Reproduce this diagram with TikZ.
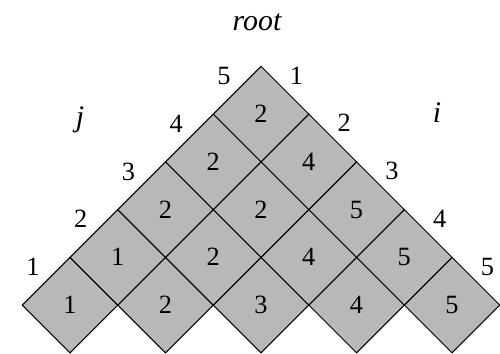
\documentclass[tikz,border=0pt]{standalone}
\usepackage{fontspec}
\setmainfont{Liberation Serif}
\usetikzlibrary{shapes.geometric,positioning}

\begin{document}
\begin{tikzpicture}[cell/.style={diamond, aspect=1, minimum width=1.91cm, minimum height=1.91cm, inner sep=0pt, outer sep=0pt, draw, line width=0.6pt, fill=black!28, font=\fontsize{15}{18}\selectfont},
index/.style={inner sep=0pt, font=\fontsize{15}{18}\selectfont},
axis/.style={inner sep=0pt, font=\fontsize{17}{20}\selectfont\itshape}]

\path[use as bounding box] (0,0) rectangle (10,7.06);

% Cells, bottom row first
\draw (1.40,0.96) node [cell] (cell51) {1};
\draw (3.31,0.96) node [cell] (cell52) {2};
\draw (5.22,0.96) node [cell] (cell53) {3};
\draw (7.13,0.96) node [cell] (cell54) {4};
\draw (9.04,0.96) node [cell] (cell55) {5};

\draw (2.355,1.915) node [cell] (cell41) {1};
\draw (4.265,1.915) node [cell] (cell42) {2};
\draw (6.175,1.915) node [cell] (cell43) {4};
\draw (8.085,1.915) node [cell] (cell44) {5};

\draw (3.31,2.87) node [cell] (cell31) {2};
\draw (5.22,2.87) node [cell] (cell32) {2};
\draw (7.13,2.87) node [cell] (cell33) {5};

\draw (4.265,3.825) node [cell] (cell21) {2};
\draw (6.175,3.825) node [cell] (cell22) {4};

\draw (5.22,4.78) node [cell] (cell11) {2};

% Index j along the left side
\draw (0.66,1.72) node [index] (jOne) {1};
\draw (1.615,2.675) node [index] (jTwo) {2};
\draw (2.57,3.63) node [index] (jThree) {3};
\draw (3.525,4.585) node [index] (jFour) {4};
\draw (4.48,5.54) node [index] (jFive) {5};

% Index i along the right side
\draw (5.93,5.55) node [index] (iOne) {1};
\draw (6.885,4.595) node [index] (iTwo) {2};
\draw (7.84,3.64) node [index] (iThree) {3};
\draw (8.795,2.685) node [index] (iFour) {4};
\draw (9.75,1.73) node [index] (iFive) {5};

% Axis names
\draw (5.14,6.62) node [axis] (rootLabel) {root};
\draw (1.60,4.66) node [axis] (jLabel) {j};
\draw (8.74,4.81) node [axis] (iLabel) {i};
\end{tikzpicture}
\end{document}
